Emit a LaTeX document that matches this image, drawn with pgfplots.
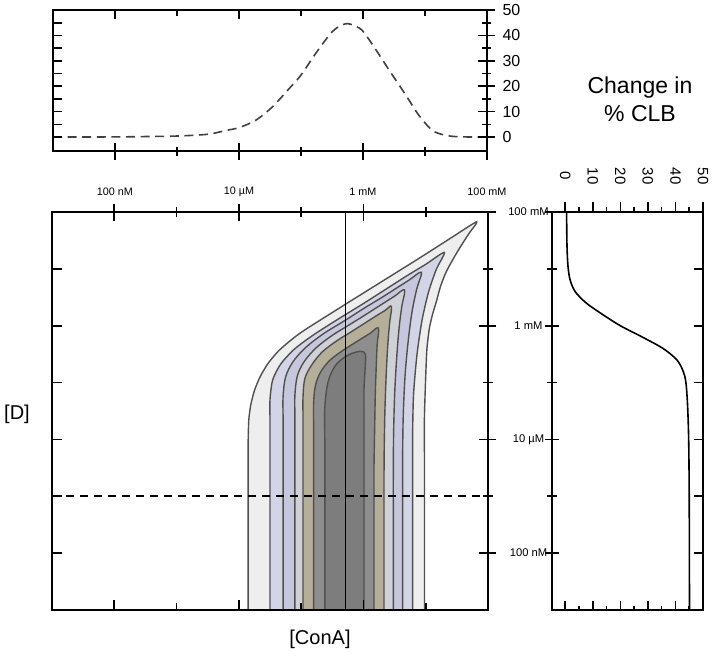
\documentclass[border=0pt]{standalone}
\usepackage{fontspec}
\setmainfont{Liberation Sans}
\usepackage{pgfplots}
\pgfplotsset{compat=1.18}

\definecolor{cline}{HTML}{505050}
\definecolor{bandA}{HTML}{EEEEEE}
\definecolor{bandB}{HTML}{D4D4E7}
\definecolor{bandC}{HTML}{C6C6DC}
\definecolor{bandD}{HTML}{D0D0D7}
\definecolor{bandE}{HTML}{B5AE98}
\definecolor{bandF}{HTML}{8E8E8E}
\definecolor{bandG}{HTML}{7D7D7D}

\pgfplotsset{
  panel/.style={
    scale only axis,
    axis on top,
    axis line style={line width=0.8pt},
    tick style={black, line width=0.8pt},
    /pgf/number format/assume math mode=true,
  },
  toppanel/.style={panel, at={(26.5pt,-5pt)}, anchor=north west,
    width=217pt, height=70.5pt, xmin=-8, xmax=-1, ymin=-5.5, ymax=50},
  mainpanel/.style={panel, at={(26pt,-106pt)}, anchor=north west,
    width=218pt, height=199pt, xmin=-8, xmax=-1, ymin=-8, ymax=-1},
  rightpanel/.style={panel, at={(276pt,-106pt)}, anchor=north west,
    width=75.5pt, height=199pt, xmin=-4.8, xmax=50, ymin=-8, ymax=-1},
  contour/.style={draw=cline, line width=0.7pt, smooth, tension=0.55},
}

\begin{document}
\begin{tikzpicture}
\useasboundingbox (0,0) rectangle (356.5pt,-327.5pt);

% ---------- top panel: change in %CLB against [ConA] (log10 M)
\begin{axis}[toppanel,
  tick align=inside, major tick length=4.5pt, minor tick length=2.8pt,
  xtick pos=right, ytick pos=left,
  xtick={-7,-5,-3}, minor xtick={-6,-4,-2}, xticklabels={},
  ytick={0,5,...,45}, yticklabels={},
]
\addplot[color=black!75, line width=0.8pt, dash pattern=on 4.5pt off 2.8pt, smooth] coordinates {
  (-8,0) (-7,0.05) (-6.5,0.2) (-6,0.4) (-5.5,1.1) (-5.21,2.6) (-5,3.7)
  (-4.73,6.6) (-4.46,11.9) (-4.19,19.1) (-4,24.4) (-3.76,33) (-3.49,41.6)
  (-3.28,44.6) (-3.12,43.6) (-3.0,41.6) (-2.79,34.3) (-2.58,26.4)
  (-2.31,16.5) (-2.1,8.6) (-1.88,2.6) (-1.67,0.7) (-1.45,0.1) (-1.08,0)
};
\end{axis}
\begin{axis}[toppanel,
  tick align=center, major tick length=8.5pt, minor tick length=4.5pt,
  xtick pos=left, ytick pos=right,
  xtick={-7,-5,-3,-1}, minor xtick={-6,-4,-2},
  xticklabels={100 nM,10 µM,1 mM,100 mM},
  xticklabel style={font=\fontsize{5.4}{6}\selectfont, anchor=center, yshift=-16pt},
  ytick={0,10,...,50}, minor ytick={5,15,...,45},
  yticklabel pos=right,
  yticklabel style={font=\fontsize{8}{9}\selectfont},
]
\end{axis}

% ---------- main panel: contour map, x = [ConA], y = [D] (log10 M)
\begin{axis}[mainpanel,
  tick align=inside, major tick length=5pt, minor tick length=3.5pt,
  xtick pos=left, ytick pos=left,
  xtick={-7,-5,-3}, minor xtick={-6,-4,-2}, xticklabels={},
  ytick={-7,-6,...,-2}, yticklabels={},
]
\addplot[contour, tension=0.4, fill=bandA] coordinates {
  (-4.85,-8.5) (-4.85,-7.9) (-4.85,-7.3) (-4.85,-6.7) (-4.85,-6.1) (-4.85,-5.5)
  (-4.85,-5.00) (-4.84,-4.65) (-4.81,-4.40) (-4.75,-4.14)
  (-4.66,-3.90) (-4.53,-3.66) (-4.36,-3.44) (-4.16,-3.25) (-3.95,-3.08)
  (-3.30,-2.63) (-2.70,-2.22) (-2.10,-1.81) (-1.60,-1.46) (-1.18,-1.17)
  (-1.30,-1.37) (-1.43,-1.59) (-1.55,-1.81) (-1.67,-2.05) (-1.76,-2.30)
  (-1.83,-2.58) (-1.89,-2.80) (-1.94,-3.04) (-1.98,-3.40) (-2.00,-3.90)
  (-2.02,-4.60) (-2.02,-5.3) (-2.02,-6.0) (-2.02,-6.8) (-2.02,-7.6) (-2.02,-8.5)
};
\addplot[contour, tension=0.45, fill=bandB] coordinates {
  (-4.50,-8.5) (-4.50,-7.8) (-4.50,-7.1) (-4.50,-6.4) (-4.50,-5.7) (-4.50,-5.1)
  (-4.50,-4.65) (-4.50,-4.30) (-4.456,-3.95) (-4.325,-3.67) (-4.106,-3.41)
  (-3.80,-3.16) (-3.40,-2.88) (-3.00,-2.61) (-2.60,-2.33) (-2.30,-2.12)
  (-2.00,-1.92) (-1.70,-1.71) (-1.83,-2.01) (-1.955,-2.41) (-2.06,-2.91)
  (-2.14,-3.51) (-2.195,-4.21) (-2.21,-4.91) (-2.21,-5.6) (-2.21,-6.3)
  (-2.21,-7.0) (-2.21,-7.7) (-2.21,-8.5)
};
\addplot[contour, fill=bandC] coordinates {
  (-4.29,-8.5) (-4.29,-7.8) (-4.29,-7.1) (-4.29,-6.4) (-4.29,-5.7) (-4.29,-5.1)
  (-4.29,-4.6) (-4.29,-4.25) (-4.249,-3.90) (-4.128,-3.63) (-3.924,-3.38)
  (-3.64,-3.14) (-3.30,-2.91) (-3.00,-2.70) (-2.70,-2.50) (-2.50,-2.36)
  (-2.27,-2.20) (-2.07,-2.06) (-2.145,-2.36) (-2.22,-2.76) (-2.28,-3.26)
  (-2.33,-3.86) (-2.36,-4.56) (-2.37,-5.26) (-2.37,-6.0) (-2.37,-6.8)
  (-2.37,-7.6) (-2.37,-8.5)
};
\addplot[contour, fill=bandD] coordinates {
  (-4.10,-8.5) (-4.10,-7.8) (-4.10,-7.1) (-4.10,-6.4) (-4.10,-5.7) (-4.10,-5.1)
  (-4.10,-4.6) (-4.10,-4.22) (-4.06,-3.88) (-3.95,-3.63) (-3.76,-3.39)
  (-3.50,-3.17) (-3.25,-3.00) (-3.00,-2.83) (-2.70,-2.62) (-2.50,-2.48)
  (-2.34,-2.37) (-2.385,-2.67) (-2.43,-3.07) (-2.466,-3.57) (-2.497,-4.17)
  (-2.515,-4.87) (-2.52,-5.6) (-2.52,-6.4) (-2.52,-7.3) (-2.52,-8.5)
};
\addplot[contour, fill=bandE] coordinates {
  (-3.97,-8.5) (-3.97,-7.8) (-3.97,-7.1) (-3.97,-6.4) (-3.97,-5.7) (-3.97,-5.1)
  (-3.97,-4.6) (-3.97,-4.26) (-3.94,-3.93) (-3.83,-3.69) (-3.66,-3.46)
  (-3.42,-3.26) (-3.20,-3.11) (-3.00,-2.97) (-2.80,-2.83) (-2.65,-2.73)
  (-2.55,-2.66) (-2.58,-2.96) (-2.61,-3.36) (-2.634,-3.86) (-2.654,-4.46)
  (-2.666,-5.16) (-2.67,-5.9) (-2.67,-6.7) (-2.67,-7.5) (-2.67,-8.5)
};
\addplot[contour, fill=bandF] coordinates {
  (-3.80,-8.5) (-3.80,-7.8) (-3.80,-7.1) (-3.80,-6.4) (-3.80,-5.7) (-3.80,-5.2)
  (-3.80,-4.75) (-3.80,-4.36) (-3.77,-4.05) (-3.69,-3.82) (-3.55,-3.62)
  (-3.35,-3.45) (-3.05,-3.24) (-2.90,-3.14) (-2.76,-3.04) (-2.78,-3.34)
  (-2.795,-3.74) (-2.81,-4.24) (-2.82,-4.84) (-2.83,-5.5) (-2.83,-6.2)
  (-2.83,-7.0) (-2.83,-7.8) (-2.83,-8.5)
};
\addplot[contour, fill=bandG] coordinates {
  (-3.62,-8.5) (-3.62,-7.8) (-3.62,-7.1) (-3.62,-6.4) (-3.62,-5.7) (-3.62,-5.0)
  (-3.62,-4.45) (-3.57,-4.00) (-3.45,-3.70) (-3.25,-3.52)
  (-3.05,-3.45) (-2.97,-3.50) (-2.97,-3.70) (-2.99,-4.10) (-2.99,-4.6)
  (-2.99,-5.2) (-2.99,-5.9) (-2.99,-6.7) (-2.99,-7.6) (-2.99,-8.5)
};
\addplot[black, line width=0.7pt] coordinates {(-3.29,-8) (-3.29,-1)};
\addplot[black, line width=0.8pt, dash pattern=on 4pt off 3pt] coordinates {(-8,-6) (-1,-6)};
\end{axis}
\begin{axis}[mainpanel,
  tick align=center, major tick length=8.5pt, minor tick length=5pt,
  xtick pos=right, ytick pos=right,
  xtick={-7,-5,-3}, minor xtick={-6,-4,-2}, xticklabels={},
  ytick={-7,-5,-3,-1}, minor ytick={-6,-4,-2},
  yticklabels={100 nM,10 µM,1 mM,100 mM},
  yticklabel pos=right,
  yticklabel style={font=\fontsize{5.6}{6}\selectfont, anchor=center, xshift=16pt},
]
\end{axis}

% ---------- right panel: change in %CLB against [D]
\begin{axis}[rightpanel,
  tick align=inside, major tick length=4.5pt, minor tick length=2.2pt,
  xtick pos=left, ytick pos=right,
  xtick={0,10,...,50}, minor xtick={5,15,...,45}, xticklabels={},
  ytick={-7,-6,...,-2}, yticklabels={},
]
\addplot[black, line width=0.8pt, smooth] coordinates {
  (0.5,-1) (0.6,-1.5) (0.8,-1.8) (1.1,-2.0) (1.8,-2.2) (3.6,-2.4) (7.6,-2.6)
  (13.5,-2.8) (20,-3.0) (28,-3.2) (35.5,-3.4) (40.5,-3.6) (42.8,-3.8)
  (43.8,-4.0) (44.4,-4.4) (44.8,-5.0) (45,-6.0) (45.1,-8)
};
\end{axis}
\begin{axis}[rightpanel,
  tick align=outside, major tick length=5pt, minor tick length=2.5pt,
  xtick pos=right, ytick=\empty,
  xtick={0,10,...,50}, minor xtick={5,15,...,45},
  xticklabel pos=right,
  xticklabel style={font=\fontsize{7.5}{8}\selectfont, yshift=13pt, rotate=-90, anchor=center},
]
\end{axis}
\begin{axis}[rightpanel,
  tick align=center, major tick length=7pt, minor tick length=5pt,
  ytick pos=left, xtick=\empty,
  ytick={-7,-5,-3,-1}, minor ytick={-6,-4,-2}, yticklabels={},
]
\end{axis}

\node[font=\fontsize{10}{11}\selectfont] at (8.5pt,-207pt) {[D]};
\node[font=\fontsize{10}{11}\selectfont] at (160pt,-319.5pt) {[ConA]};
\node[font=\fontsize{11.5}{14}\selectfont, align=center] at (320pt,-49.5pt) {Change in\\\% CLB};
\end{tikzpicture}
\end{document}
